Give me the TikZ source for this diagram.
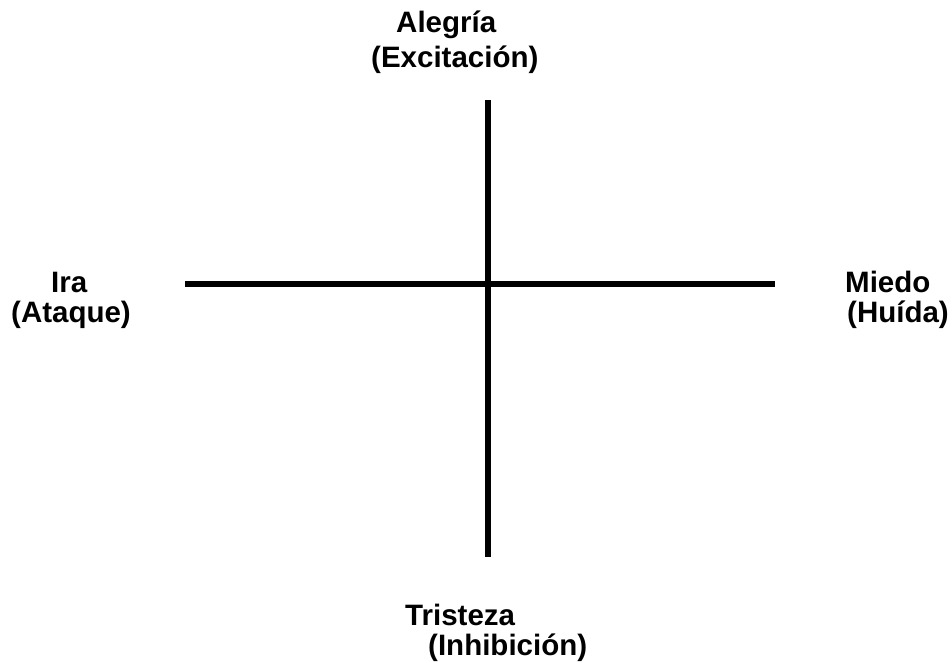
\documentclass[tikz,border=0pt]{standalone}
\usepackage{fontspec}
\setmainfont{Liberation Sans}
\usetikzlibrary{positioning}

\begin{document}
\begin{tikzpicture}[x=1pt,y=-1pt]
  \tikzset{
    axis/.style={line width=5.5pt},
    lbl/.style={anchor=base west,inner sep=0pt,font=\fontsize{29.5}{31}\selectfont\bfseries}
  }
  \useasboundingbox (0,0) rectangle (952,663);

  % AXES
  \coordinate (up) at (488,100);
  \coordinate (down) at (488,557);
  \coordinate (left) at (185,284);
  \coordinate (right) at (775,284);
  \draw[axis] (up) -- (down);
  \draw[axis] (left) -- (right);

  % LABELS
  \node[lbl] (alegria) at (396,33) {Alegría};
  \node[lbl] (excit) at (371,68) {(Excitación)};
  \node[lbl] (ira) at (51,292) {Ira};
  \node[lbl] (ataque) at (11,322) {(Ataque)};
  \node[lbl] (miedo) at (845,292) {Miedo};
  \node[lbl] (huida) at (847,322) {(Huída)};
  \node[lbl] (tristeza) at (405,625) {Tristeza};
  \node[lbl] (inhib) at (428,655) {(Inhibición)};
\end{tikzpicture}
\end{document}
